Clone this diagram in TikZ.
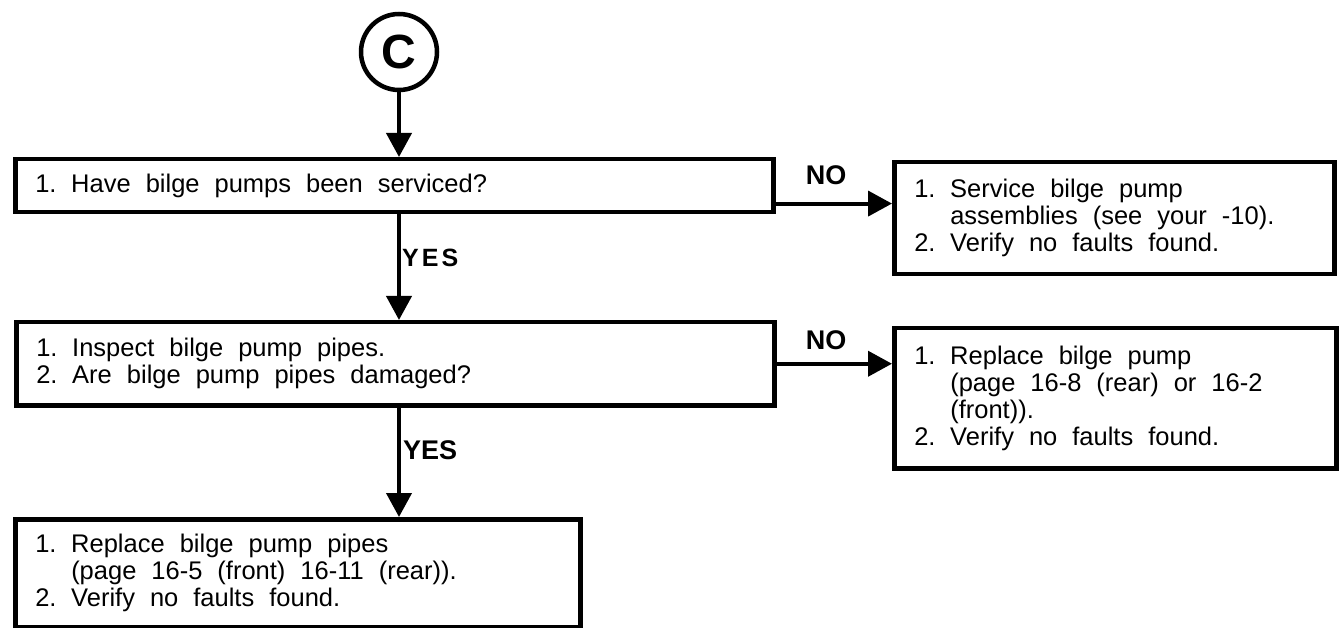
\documentclass[tikz,border=0pt]{standalone}
\usepackage{fontspec}
\setmainfont{Liberation Sans}
\usetikzlibrary{arrows.meta,calc}
\newcommand{\itm}[1]{\makebox[36pt][l]{#1}}
\newcommand{\ind}{\hspace*{36pt}}
\begin{document}
\begin{tikzpicture}[x=1pt,y=-1pt,
  box/.style={draw,line width=4.5pt,anchor=north west,inner xsep=20pt,inner ysep=0pt,align=left,font=\fontsize{25.5}{27}\selectfont,
    execute at begin node={\spaceskip=15pt plus 2pt minus 2pt\xspaceskip=15pt plus 2pt minus 2pt\relax}},
  arr/.style={line width=4pt,-{Triangle[width=25pt,length=24pt]}},
  lbl/.style={font=\bfseries\fontsize{27}{27}\selectfont,inner sep=0pt}]
\useasboundingbox (0,0) rectangle (1339,628);
\node[draw,circle,line width=4.5pt,minimum size=76pt,inner sep=0pt,font=\bfseries\fontsize{48}{48}\selectfont] (c) at (399,52) {C};
\node[box,minimum width=758pt,minimum height=53pt,text width=718pt] (b1) at (13,157) {\itm{1.}Have bilge pumps been serviced?};
\node[box,minimum width=758pt,minimum height=83pt,text width=718pt] (b2) at (14,320) {\itm{1.}Inspect bilge pump pipes.\\\itm{2.}Are bilge pump pipes damaged?};
\node[box,minimum width=565pt,minimum height=108pt,text width=525pt] (b3) at (13,517) {\itm{1.}Replace bilge pump pipes\\\ind(page 16-5 (front) 16-11 (rear)).\\\itm{2.}Verify no faults found.};
\node[box,minimum width=440pt,minimum height=112pt,text width=400pt] (r1) at (892,160) {\itm{1.}Service bilge pump\\\ind assemblies (see your -10).\\\itm{2.}Verify no faults found.};
\node[box,minimum width=442pt,minimum height=140pt,text width=402pt] (r2) at (892,326) {\itm{1.}Replace bilge pump\\\ind(page 16-8 (rear) or 16-2\\\ind(front)).\\\itm{2.}Verify no faults found.};
\draw[arr] (c) -- (c |- b1.north);
\draw[arr] (c |- b1.south) -- (c |- b2.north);
\node[lbl,anchor=west,font=\bfseries\fontsize{25}{25}\selectfont] (y1) at (402,258) {\addfontfeatures{LetterSpace=12}YES};
\draw[arr] (c |- b2.south) -- (c |- b3.north);
\node[lbl,anchor=west] (y2) at (403,450) {YES};
\coordinate (n1) at ($(b1.south east)!0.19!(b1.north east)$);
\draw[arr] (n1) -- (n1 -| r1.west);
\node[lbl] (no1) at (826,175) {NO};
\draw[arr] (b2.east) -- (b2.east -| r2.west);
\node[lbl] (no2) at (826,340) {NO};
\end{tikzpicture}
\end{document}
